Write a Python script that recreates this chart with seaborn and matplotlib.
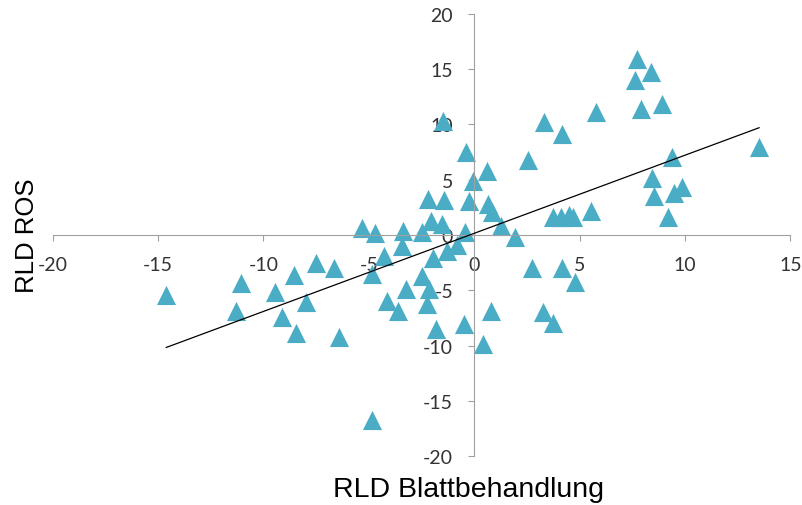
import numpy as np
import pandas as pd
import seaborn as sns
import matplotlib.pyplot as plt

# werte
rld_blatt = [
    -14.62, -11.08, -11.32, -9.47, -9.14, -8.55, -8.47, -7.97, -7.51, -6.64,
    -6.42, -5.31, -4.72, -4.84, -4.84, -4.28, -4.13, -3.61, -3.37, -3.44,
    -3.24, -2.50, -2.18, -2.05, -2.50, -2.13, -2.26, -1.83, -1.42, -1.50,
    -1.52, -1.95, -1.30, -0.84, -0.44, -0.50, -0.41, -0.05, -0.25, 0.58,
    0.64, 0.82, 1.27, 1.93, 0.78, 0.43, 2.56, 3.31, 4.15, 5.77,
    7.73, 7.62, 8.37, 7.89, 8.89, 13.52, 9.39, 8.41, 8.52, 9.47,
    9.84, 9.20, 5.54, 3.75, 4.11, 4.51, 4.70, 2.72, 4.18, 4.78,
    3.24, 3.75,
]
rld_ros = [
    -5.42, -4.34, -6.84, -5.18, -7.44, -3.62, -8.89, -6.09, -2.53, -2.98,
    -9.22, 0.63, 0.15, -3.53, -16.76, -1.93, -6.00, -6.84, 0.39, -0.97,
    -4.88, 0.30, 3.26, 1.25, -3.68, -4.88, -6.24, -8.50, 3.20, 10.34,
    0.95, -2.10, -1.45, -0.90, 0.28, -8.05, 7.48, 4.91, 3.10, 5.78,
    2.80, 2.05, 0.84, -0.21, -6.84, -9.86, 6.81, 10.25, 9.13, 11.15,
    15.91, 14.04, 14.71, 11.39, 11.84, 7.93, 7.02, 5.12, 3.56, 3.80,
    4.37, 1.60, 2.20, 1.60, 1.60, 1.81, 1.60, -3.01, -3.01, -4.22,
    -6.99, -7.99,
]
x_ticks = list(range(-20, 16, 5))
y_ticks = list(range(-20, 21, 5))

df = pd.DataFrame({"x": rld_blatt, "y": rld_ros})

sns.set_theme(style="white")
plt.rcParams["font.family"] = ["Lato", "DejaVu Sans"]
plt.rcParams["axes.unicode_minus"] = False

fig = plt.figure(figsize=(8.03, 5.06), dpi=100)
ax = fig.add_axes([0.0656, 0.0968, 0.9188, 0.8736])

sns.scatterplot(data=df, x="x", y="y", marker="^", s=190, color="#4BACC6",
                linewidth=0, ax=ax, zorder=2, legend=False)
# lineare trendlinie wie in excel, über den punkten
sns.regplot(data=df, x="x", y="y", scatter=False, ci=None, truncate=True,
            color="black", line_kws={"lw": 0.9, "zorder": 3}, ax=ax)

ax.set_xlim(-20, 15)
ax.set_ylim(-20, 20)
ax.set_xticks(x_ticks)
ax.set_yticks(y_ticks)

# achsen durch den nullpunkt
for side in ["top", "right"]:
    ax.spines[side].set_visible(False)
ax.spines["left"].set_position(("data", 0))
ax.spines["bottom"].set_position(("data", 0))
for side in ["left", "bottom"]:
    ax.spines[side].set_color("#A0A0A0")
    ax.spines[side].set_linewidth(0.8)

ax.tick_params(bottom=True, left=True, direction="out", length=4.3, width=0.8,
               color="#A0A0A0", pad=11, labelsize=14, labelcolor="#333333")

ax.set_xlabel("RLD Blattbehandlung", fontsize=20.5, family=["Liberation Sans"],
              color="black", va="top")
ax.xaxis.set_label_coords(0.563, -0.045)
ax.set_ylabel("RLD ROS", fontsize=18.5, family=["Liberation Sans"], color="black")
ax.yaxis.set_label_coords(-0.0186, 0.5)

fig.savefig("out.png", dpi=100, facecolor="white")
